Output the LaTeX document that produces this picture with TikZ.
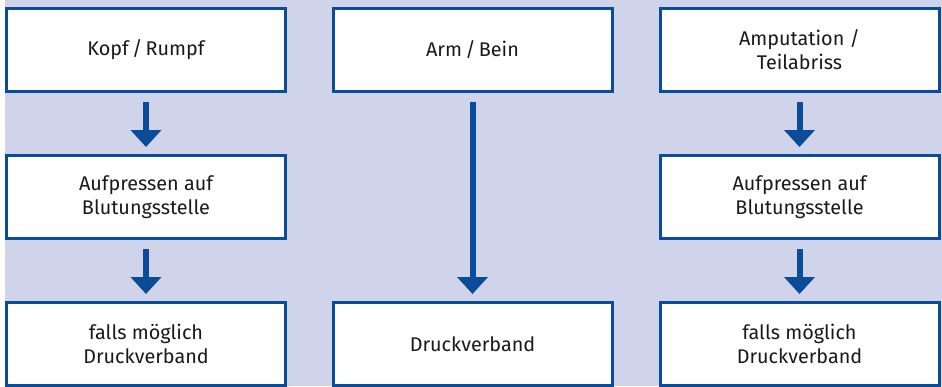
\documentclass[tikz,border=0pt]{standalone}
\usepackage{fontspec}
\setmainfont{Fira Sans}
\usetikzlibrary{arrows.meta, positioning}
\definecolor{drkblue}{HTML}{0A4C98}
\definecolor{lavender}{HTML}{CFD4EA}

\begin{document}
\begin{tikzpicture}[x=1pt,y=-1pt]
	\tikzset{box/.style={draw=drkblue, line width=3pt, fill=white, minimum width=279pt, minimum height=83pt, align=center, text=black!90, font=\fontsize{19.8}{24}\selectfont}}
	\tikzset{pfeil/.style={-{Triangle[length=17pt,width=30pt]}, color=drkblue, line width=6pt, shorten <=9pt, shorten >=7pt}}
	\useasboundingbox (0,0) rectangle (942,386);
	\fill[lavender] (5,0) rectangle (942,386);
	\node[box] (kopf) at (146,50) {Kopf\,/\,Rumpf};
	\node[box] (press1) at (146,197) {Aufpressen auf\\Blutungsstelle};
	\node[box] (druck1) at (146,344) {falls möglich\\Druckverband};
	\node[box] (arm) at (472.5,50) {Arm\,/\,Bein};
	\node[box] (druck2) at (472.5,344) {Druckverband};
	\node[box] (amput) at (799.5,50) {Amputation /\\Teilabriss};
	\node[box] (press3) at (799.5,197) {Aufpressen auf\\Blutungsstelle};
	\node[box] (druck3) at (799.5,344) {falls möglich\\Druckverband};
	\path[pfeil]
		(kopf) edge (press1)
		(press1) edge (druck1)
		(arm) edge (druck2)
		(amput) edge (press3)
		(press3) edge (druck3);
\end{tikzpicture}
\end{document}
